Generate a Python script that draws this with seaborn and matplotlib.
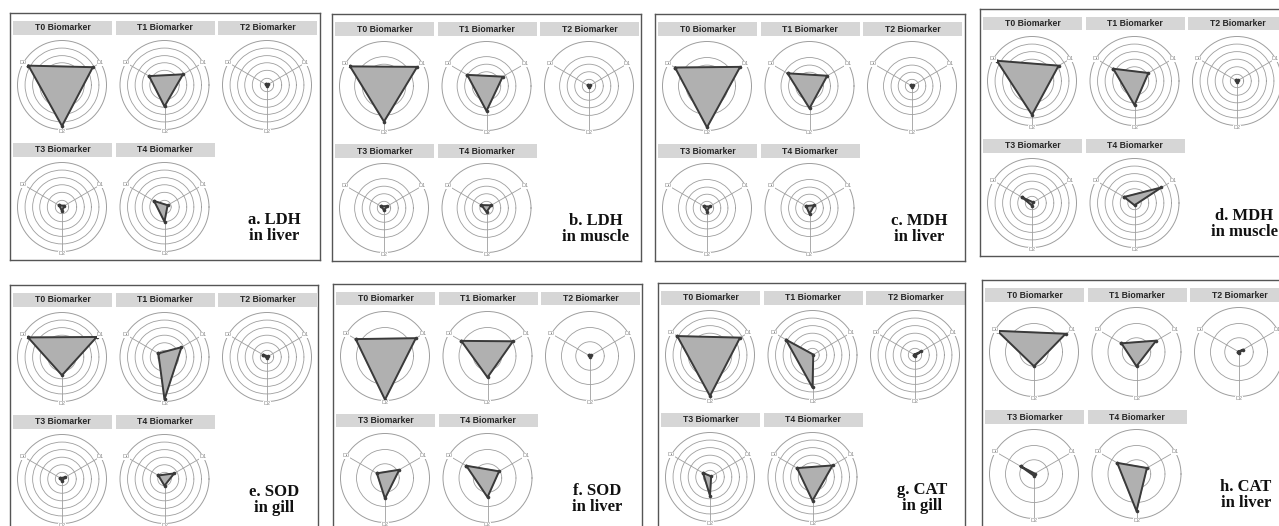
import numpy as np
import matplotlib
matplotlib.use("Agg")
import matplotlib.pyplot as plt
import seaborn as sns
from matplotlib.patches import Rectangle

sns.set_theme(style="white")
plt.rcParams["font.family"] = ["Liberation Sans", "DejaVu Sans"]

# ---- data -------------------------------------------------------------
axis_labels = ["D0", "D1", "D2"]
axis_angles = [150, 30, 270]          # degrees for D0, D1, D2
time_points = ["T0", "T1", "T2", "T3", "T4"]

# biomarker response per time point, ordered D0, D1, D2 (outer ring = 1)
ldh_liver = [[0.87, 0.80, 0.92], [0.40, 0.48, 0.48], [0.03, 0.03, 0.03],
             [0.07, 0.06, 0.09], [0.27, 0.08, 0.33]]
ldh_muscle = [[0.88, 0.86, 0.80], [0.50, 0.42, 0.56], [0.03, 0.03, 0.03],
              [0.07, 0.09, 0.05], [0.13, 0.12, 0.09]]
mdh_liver = [[0.83, 0.86, 0.93], [0.57, 0.46, 0.50], [0.03, 0.03, 0.03],
             [0.07, 0.07, 0.08], [0.09, 0.12, 0.13]]
mdh_muscle = [[0.91, 0.69, 0.76], [0.55, 0.36, 0.54], [0.03, 0.03, 0.03],
              [0.25, 0.03, 0.06], [0.27, 0.70, 0.05]]
sod_gill = [[0.88, 0.90, 0.41], [0.16, 0.44, 0.95], [0.10, 0.03, 0.03],
            [0.04, 0.08, 0.05], [0.16, 0.25, 0.15]]
sod_liver = [[0.76, 0.80, 0.98], [0.68, 0.66, 0.48], [0.03, 0.03, 0.03],
             [0.21, 0.37, 0.46], [0.55, 0.30, 0.43]]
cat_gill = [[0.85, 0.78, 0.92], [0.69, 0.02, 0.73], [0.02, 0.16, 0.02],
            [0.18, 0.03, 0.42], [0.40, 0.52, 0.53]]
cat_liver = [[0.95, 0.82, 0.32], [0.39, 0.51, 0.32], [0.02, 0.11, 0.02],
             [0.35, 0.02, 0.04], [0.50, 0.27, 0.83]]

panel_data = [ldh_liver, ldh_muscle, mdh_liver, mdh_muscle,
              sod_gill, sod_liver, cat_gill, cat_liver]
panel_titles = ["a. LDH\nin liver", "b. LDH\nin muscle", "c. MDH\nin liver",
                "d. MDH\nin muscle", "e. SOD\nin gill", "f. SOD\nin liver",
                "g. CAT\nin gill", "h. CAT\nin liver"]
panel_rings = [[0.15, 0.33, 0.50, 0.66, 0.83],
               [0.15, 0.32, 0.49, 0.66],
               [0.15, 0.31, 0.47, 0.64],
               [0.15, 0.32, 0.49, 0.66, 0.83],
               [0.15, 0.32, 0.49, 0.66, 0.83],
               [0.32, 0.64],
               [0.15, 0.32, 0.49, 0.66, 0.83],
               [0.32, 0.64]]

# ---- layout (pixels, measured from the top-left corner) ----------------
W, H = 1279, 526
panel_boxes = [(10, 13, 310), (332, 14, 309), (655, 14, 310), (980, 9, 310),
               (10, 285, 308), (333, 284, 309), (658, 283, 307), (982, 280, 310)]
PANEL_H = 247
COL_STEP, ROW_STEP = 102.5, 122
RADIUS = 44.5

fig = plt.figure(figsize=(W / 100, H / 100), dpi=100)
fig.patch.set_facecolor("white")


def fig_rect(x, y, w, h):
    return [x / W, 1 - (y + h) / H, w / W, h / H]


theta = np.deg2rad(axis_angles + axis_angles[:1])

for data, title, rings, (left, top, pw) in zip(panel_data, panel_titles,
                                               panel_rings, panel_boxes):
    frame = fig.add_axes(fig_rect(left, top, pw, PANEL_H))
    frame.set_xlim(0, pw)
    frame.set_ylim(PANEL_H, 0)
    frame.set_xticks([])
    frame.set_yticks([])
    frame.set_facecolor("white")
    for sp in frame.spines.values():
        sp.set_color("#555555")
        sp.set_linewidth(1.0)

    for i, tp in enumerate(time_points):
        row, col = divmod(i, 3)
        bx = 3 + col * COL_STEP
        by = 8 + row * ROW_STEP
        frame.add_patch(Rectangle((bx, by), 99, 13.5, facecolor="#d6d6d6",
                                  edgecolor="none"))
        frame.text(bx + 49.5, by + 7, f"{tp} Biomarker", ha="center",
                   va="center", fontsize=6.2, fontweight="bold",
                   color="#262626")

        cx = left + 52 + col * COL_STEP
        cy = top + 72 + row * ROW_STEP
        ax = fig.add_axes(fig_rect(cx - RADIUS, cy - RADIUS, 2 * RADIUS,
                                   2 * RADIUS), projection="polar")
        vals = data[i] + data[i][:1]
        ax.fill(theta, vals, color="#b0b0b0", zorder=2)
        sns.lineplot(x=theta, y=vals, sort=False, estimator=None, ax=ax,
                     color="#3a3a3a", linewidth=1.4, marker="o",
                     markersize=2.6, markeredgewidth=0, zorder=3)
        ax.set_xlabel("")
        ax.set_ylabel("")
        ax.set_ylim(0, 1)
        ax.set_yticks(rings)
        ax.set_yticklabels([])
        ax.set_thetagrids(axis_angles, [""] * len(axis_angles))
        ax.grid(True, color="#9e9e9e", linewidth=0.6)
        ax.spines["polar"].set_color("#9e9e9e")
        ax.spines["polar"].set_linewidth(0.7)
        ax.set_facecolor("white")
        for ang, lab in zip(axis_angles, axis_labels):
            ax.text(np.deg2rad(ang), 1.0 if ang != 270 else 1.04, lab,
                    ha="center", va="center", fontsize=4, color="#8a8a8a",
                    clip_on=False, zorder=4,
                    bbox=dict(facecolor="white", edgecolor="none", pad=0.2))

    frame.text(264, 215, title, ha="center", va="center", fontsize=12,
               fontweight="bold", family=["Liberation Serif", "DejaVu Serif"],
               color="#111111", linespacing=1.05)

fig.savefig("out.png", dpi=100, facecolor="white")
